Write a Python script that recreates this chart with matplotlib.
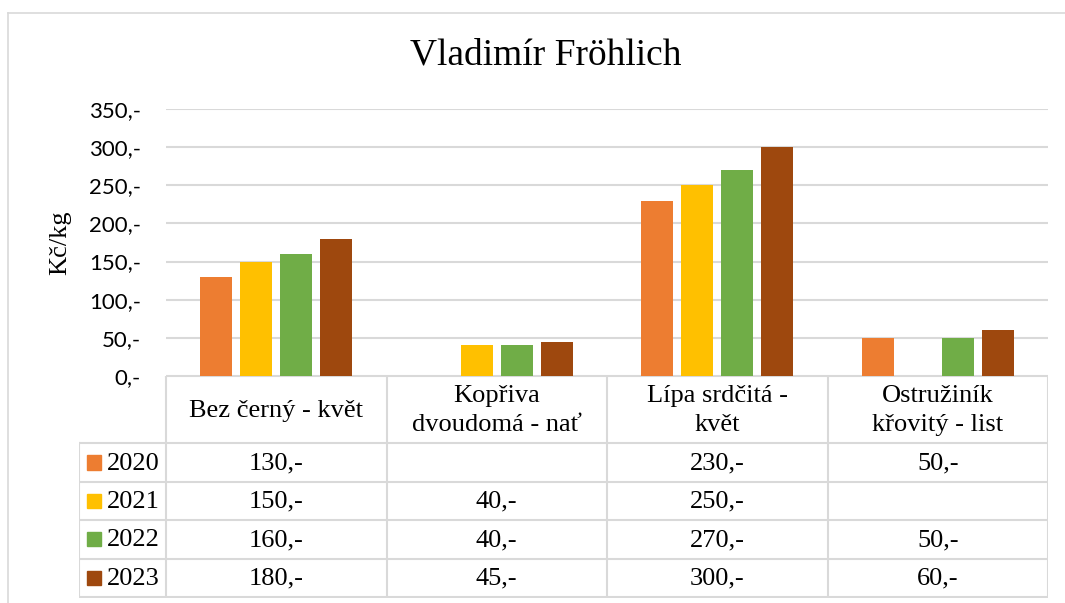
import numpy as np
import matplotlib.pyplot as plt
from matplotlib.lines import Line2D
from matplotlib.patches import Rectangle

# data
categories = ['Bez černý - květ', 'Kopřiva\ndvoudomá - nať', 'Lípa srdčitá -\nkvět', 'Ostružiník\nkřovitý - list']
years = ['2020', '2021', '2022', '2023']
v2020 = [130, np.nan, 230, 50]
v2021 = [150, 40, 250, np.nan]
v2022 = [160, 40, 270, 50]
v2023 = [180, 45, 300, 60]
values = [v2020, v2021, v2022, v2023]
colors = ['#ED7D31', '#FFC000', '#70AD47', '#9E480E']
yticks = [0, 50, 100, 150, 200, 250, 300, 350]

W, H = 1065, 603
fig = plt.figure(figsize=(W / 100, H / 100), dpi=100)

def px(x0, y0, x1, y1):
    # pixel box -> figure fraction [left, bottom, width, height]
    return [x0 / W, 1 - y1 / H, (x1 - x0) / W, (y1 - y0) / H]

serif = 'Liberation Serif'
grid_c = '#d9d9d9'
fs = 19

# outer frame
fig.add_artist(Line2D([8 / W, 8 / W], [0, 1 - 13 / H], color=grid_c, lw=1.2))
fig.add_artist(Line2D([8 / W, 1], [1 - 13 / H, 1 - 13 / H], color=grid_c, lw=1.2))

# bars
ax = fig.add_axes(px(166, 109, 1048, 376))
x = np.arange(len(categories)) + 0.5
step = 40 / 220.5
bw = 32 / 220.5
for i, (vals, c) in enumerate(zip(values, colors)):
    ax.bar(x + (i - 1.5) * step, vals, width=bw, color=c, zorder=3)
ax.set_xlim(0, len(categories))
ax.set_ylim(0, 350)
ax.set_yticks(yticks)
ax.set_yticklabels([f'{t},-' for t in yticks], family='Lato', fontsize=16)
ax.set_xticks([])
ax.grid(axis='y', color=grid_c, lw=1.5, zorder=0)
for s in ax.spines.values():
    s.set_visible(False)
ax.tick_params(axis='y', length=0, pad=18)
ax.text((60 - 166) / 882, 0.5, 'Kč/kg', family=serif, fontsize=fs, rotation=90,
        ha='center', va='center', transform=ax.transAxes)

fig.text(0.512, 1 - 55 / H, 'Vladimír Fröhlich', family=serif, fontsize=27,
         ha='center', va='center')

# data table
tb = fig.add_axes(px(79, 376, 1048, 598))
leg_w = 87 / 220.5
tb.set_xlim(-leg_w, len(categories))
hdr = 67
rh = 38.25
tb.set_ylim(hdr + 4 * rh + 1, 0)
tb.axis('off')
lc = dict(color=grid_c, lw=1.5, solid_capstyle='projecting')
# horizontal lines
tb.plot([0, len(categories)], [0, 0], **lc)
for r in range(5):
    tb.plot([-leg_w, len(categories)], [hdr + r * rh] * 2, **lc)
# vertical lines
tb.plot([-leg_w, -leg_w], [hdr, hdr + 4 * rh], **lc)
for k in range(len(categories) + 1):
    tb.plot([k, k], [0, hdr + 4 * rh], **lc)

for k, cat in enumerate(categories):
    tb.text(k + 0.5, hdr / 2 + 1, cat, family=serif, fontsize=fs, ha='center',
            va='center', linespacing=1.4)

for r, (yr, vals, c) in enumerate(zip(years, values, colors)):
    yc = hdr + (r + 0.5) * rh
    tb.add_patch(Rectangle((8 / 220.5 - leg_w, yc - 7), 14 / 220.5, 14, color=c))
    tb.text(28 / 220.5 - leg_w, yc + 1, yr, family=serif, fontsize=fs, va='center')
    for k, v in enumerate(vals):
        if not np.isnan(v):
            tb.text(k + 0.5, yc + 1, f'{v:.0f},-', family=serif, fontsize=fs,
                    ha='center', va='center')

fig.savefig('out.png', dpi=100)
